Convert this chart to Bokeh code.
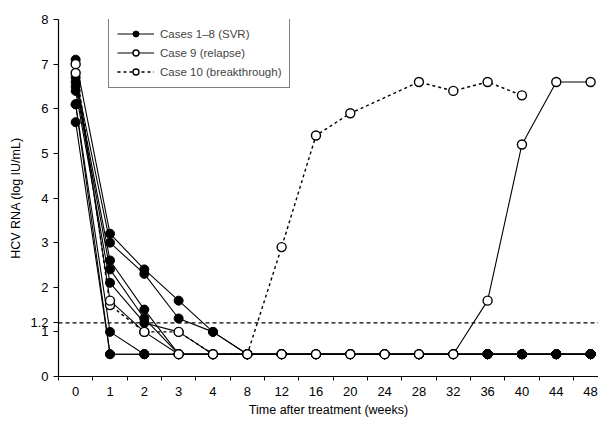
from bokeh.plotting import figure
from bokeh.models import FixedTicker, Span, Legend, LegendItem, Range1d
from bokeh.embed import file_html
from bokeh.resources import INLINE

# ---------------- data ----------------
weeks = [0, 1, 2, 3, 4, 8, 12, 16, 20, 24, 28, 32, 36, 40, 44, 48]
y_ticks = [0, 1, 1.2, 2, 3, 4, 5, 6, 7, 8]
threshold = 1.2

svr_cases = [
    [7.1, 3.2, 2.4, 1.7, 1.0, 0.5, 0.5, 0.5, 0.5, 0.5, 0.5, 0.5, 0.5, 0.5, 0.5, 0.5],
    [6.7, 3.0, 2.3, 1.3, 1.0, 0.5, 0.5, 0.5, 0.5, 0.5, 0.5, 0.5, 0.5, 0.5, 0.5, 0.5],
    [6.6, 2.6, 1.5, 0.5, 0.5, 0.5, 0.5, 0.5, 0.5, 0.5, 0.5, 0.5, 0.5, 0.5, 0.5, 0.5],
    [6.5, 2.4, 1.3, 0.5, 0.5, 0.5, 0.5, 0.5, 0.5, 0.5, 0.5, 0.5, 0.5, 0.5, 0.5, 0.5],
    [6.4, 2.1, 1.2, 1.0, 0.5, 0.5, 0.5, 0.5, 0.5, 0.5, 0.5, 0.5, 0.5, 0.5, 0.5, 0.5],
    [6.1, 1.0, 0.5, 0.5, 0.5, 0.5, 0.5, 0.5, 0.5, 0.5, 0.5, 0.5, 0.5, 0.5, 0.5, 0.5],
    [6.1, 0.5, 0.5, 0.5, 0.5, 0.5, 0.5, 0.5, 0.5, 0.5, 0.5, 0.5, 0.5, 0.5, 0.5, 0.5],
    [5.7, 0.5, 0.5, 0.5, 0.5, 0.5, 0.5, 0.5, 0.5, 0.5, 0.5, 0.5, 0.5, 0.5, 0.5, 0.5],
]

case9_weeks = [0, 1, 2, 3, 4, 8, 12, 16, 20, 24, 28, 32, 36, 40, 44, 48]
case9_vals = [6.8, 1.7, 1.0, 0.5, 0.5, 0.5, 0.5, 0.5, 0.5, 0.5, 0.5, 0.5, 1.7, 5.2, 6.6, 6.6]

case10_weeks = [0, 1, 2, 3, 4, 8, 12, 16, 20, 28, 32, 36, 40]
case10_vals = [7.0, 1.6, 1.0, 1.0, 0.5, 0.5, 2.9, 5.4, 5.9, 6.6, 6.4, 6.6, 6.3]

labels = ["Cases 1\u20138 (SVR)", "Case 9 (relapse)", "Case 10 (breakthrough)"]

FONT = "Liberation Sans"


def idx(ws):
    return [weeks.index(w) for w in ws]


p = figure(width=598, height=421, output_backend="svg", toolbar_location=None,
           x_range=Range1d(-0.5, 15.23), y_range=Range1d(0, 8),
           min_border_left=58, min_border_right=0, min_border_top=19,
           min_border_bottom=45)
p.outline_line_color = None
p.xgrid.visible = False
p.ygrid.visible = False
p.background_fill_color = "white"
p.border_fill_color = "white"

# threshold line
p.add_layout(Span(location=threshold, dimension="width", line_color="black",
                  line_dash="4 3", line_width=1.2))

x_all = idx(weeks)
svr_line_rs = []
svr_pt_rs = []
for vals in svr_cases:
    svr_line_rs.append(p.line(x_all, vals, line_color="black", line_width=1.1))
for vals in svr_cases:
    svr_pt_rs.append(p.scatter(x_all, vals, size=9, fill_color="black",
                               line_color="black"))

c9x = idx(case9_weeks)
c9_line = p.line(c9x, case9_vals, line_color="black", line_width=1.1)
c10x = idx(case10_weeks)
c10_line = p.line(c10x, case10_vals, line_color="black", line_width=1.4,
                  line_dash="3 3")
c10_pts = p.scatter(c10x, case10_vals, size=9, fill_color="white",
                    line_color="black", line_width=1.4)
c9_pts = p.scatter(c9x, case9_vals, size=9, fill_color="white",
                   line_color="black", line_width=1.4)
# SVR dots stay visible on top once case 9 rebounds
late = [i for i, w in enumerate(weeks) if w >= 36]
p.scatter([x_all[i] for i in late], [svr_cases[0][i] for i in late], size=9,
          fill_color="black", line_color="black")

# axes
xa = p.xaxis[0]
xa.ticker = FixedTicker(ticks=x_all, minor_ticks=[i - 0.5 for i in x_all])
xa.major_label_overrides = {i: str(w) for i, w in zip(x_all, weeks)}
xa.major_tick_out = 0
xa.major_tick_in = 0
xa.minor_tick_out = 4
xa.minor_tick_in = 0
xa.axis_label = "Time after treatment (weeks)"

ya = p.yaxis[0]
ya.ticker = FixedTicker(ticks=y_ticks, minor_ticks=[])
ya.major_label_overrides = {t: str(t) for t in y_ticks}
ya.major_tick_out = 5
ya.major_tick_in = 0
ya.axis_label = "HCV RNA (log IU/mL)"

for ax in (xa, ya):
    ax.axis_line_color = "black"
    ax.axis_line_width = 1.2
    ax.major_tick_line_color = "black"
    ax.minor_tick_line_color = "black"
    ax.major_label_text_font = FONT
    ax.major_label_text_font_size = "13px"
    ax.major_label_text_color = "black"
    ax.axis_label_text_font = FONT
    ax.axis_label_text_font_size = "12.5px"
    ax.axis_label_text_font_style = "normal"
    ax.axis_label_text_color = "black"
xa.major_label_standoff = 6
xa.axis_label_standoff = 4
ya.major_label_standoff = 5
ya.axis_label_standoff = 4

legend = Legend(items=[
    LegendItem(label=labels[0], renderers=[svr_line_rs[0], svr_pt_rs[0]]),
    LegendItem(label=labels[1], renderers=[c9_line, c9_pts]),
    LegendItem(label=labels[2], renderers=[c10_line, c10_pts]),
], location=(50, 288))
legend.glyph_width = 37
legend.glyph_height = 15
legend.label_text_font = FONT
legend.label_text_font_size = "11.5px"
legend.label_height = 15
legend.label_standoff = 6
legend.spacing = 4
legend.padding = 8
legend.margin = 0
legend.border_line_color = "black"
legend.border_line_width = 1.2
legend.background_fill_alpha = 1
p.add_layout(legend, "center")

open("out.html", "w").write(file_html(p, INLINE))
